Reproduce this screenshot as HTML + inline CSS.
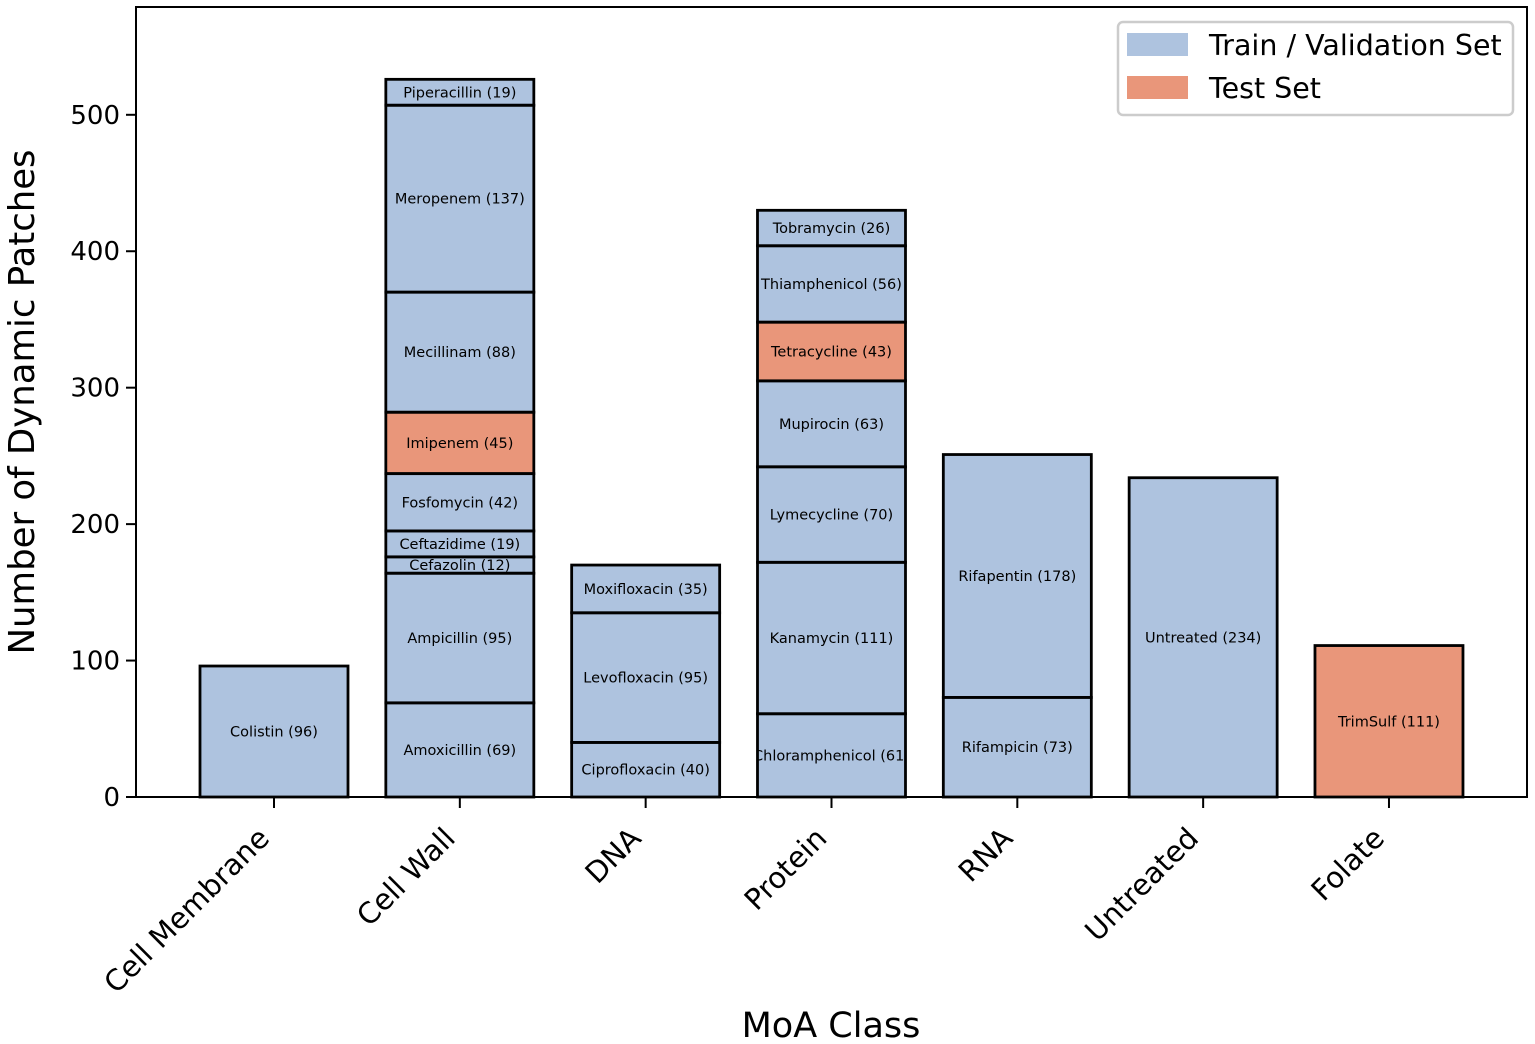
<!DOCTYPE html>
<html><head><meta charset="utf-8"><style>
body{margin:0;background:#fff}
svg{display:block;font-family:"DejaVu Sans","Liberation Sans",sans-serif}
</style></head><body>
<svg id="chart" width="1535" height="1044" viewBox="0 0 1535 1044" xmlns="http://www.w3.org/2000/svg">
<defs id="defs"></defs>
<g id="fills"></g><g id="labels"></g><g id="edges"></g>
<rect x="136" y="7" width="1391" height="790" fill="none" stroke="#000" stroke-width="2"/>
<g id="axes"></g>
<text transform="translate(34,402) rotate(-90)" text-anchor="middle" font-size="35.5">Number of Dynamic Patches</text>
<text x="831" y="1037" text-anchor="middle" font-size="35">MoA Class</text>
<g>
<rect x="1118" y="22" width="395" height="93" rx="5" fill="#fff" stroke="#ccc" stroke-width="2.5"/>
<rect x="1127" y="33" width="61" height="23" fill="#aec3df"/>
<text x="1209" y="55" font-size="28.5">Train / Validation Set</text>
<rect x="1127" y="76" width="61" height="23" fill="#e9967a"/>
<text x="1209" y="98" font-size="28.5">Test Set</text>
</g>
</svg>
<script>
const categories=["Cell Membrane","Cell Wall","DNA","Protein","RNA","Untreated","Folate"];
const segNames=[["Colistin"],["Amoxicillin","Ampicillin","Cefazolin","Ceftazidime","Fosfomycin","Imipenem","Mecillinam","Meropenem","Piperacillin"],["Ciprofloxacin","Levofloxacin","Moxifloxacin"],["Chloramphenicol","Kanamycin","Lymecycline","Mupirocin","Tetracycline","Thiamphenicol","Tobramycin"],["Rifampicin","Rifapentin"],["Untreated"],["TrimSulf"]];
const segValues=[[96],[69,95,12,19,42,45,88,137,19],[40,95,35],[61,111,70,63,43,56,26],[73,178],[234],[111]];
const segTest=[[0],[0,0,0,0,0,1,0,0,0],[0,0,0],[0,0,0,0,1,0,0],[0,0],[0],[1]];
const yTicks=[0,100,200,300,400,500];
const NS="http://www.w3.org/2000/svg";
const X0=136,Y0=797,PPU=1.3644;
const step=185.83, bw=148, first=274;
const xc=i=>first+step*i;
const y=v=>Y0-v*PPU;
function mk(t,a,p){const e=document.createElementNS(NS,t);for(const k in a)e.setAttribute(k,a[k]);p.appendChild(e);return e;}
const fills=document.getElementById('fills'),labels=document.getElementById('labels'),edges=document.getElementById('edges'),axes=document.getElementById('axes'),defs=document.getElementById('defs');
categories.forEach((c,i)=>{
  const cp=mk('clipPath',{id:'clip'+i},defs);
  mk('rect',{x:xc(i)-bw/2,y:0,width:bw,height:1044},cp);
  let base=0;
  segValues[i].forEach((v,j)=>{
    const r=mk('rect',{x:xc(i)-bw/2,y:y(base+v),width:bw,height:v*PPU,fill:segTest[i][j]?'#e9967a':'#aec3df'},fills);
    
    
    const t=mk('text',{x:xc(i),y:y(base+v/2)+5,'text-anchor':'middle','font-size':'14.5','clip-path':'url(#clip'+i+')'},labels);
    t.textContent=segNames[i][j]+' ('+v+')';
    
    
    const e=mk('rect',{x:xc(i)-bw/2,y:y(base+v),width:bw,height:v*PPU,fill:'none',stroke:'#000','stroke-width':'2.8'},edges);
    
    
    base+=v;
  });
  const tk=mk('line',{x1:xc(i),x2:xc(i),y1:Y0,y2:Y0+11,stroke:'#000','stroke-width':'2'},axes);
  
  
  const lb=mk('text',{transform:`translate(${xc(i)-3},${Y0+43}) rotate(-45)`,'text-anchor':'end','font-size':'29'},axes);
  lb.textContent=c;
  
  
});
yTicks.forEach(v=>{
  const tk=mk('line',{x1:X0-10,x2:X0,y1:y(v),y2:y(v),stroke:'#000','stroke-width':'2'},axes);
  
  
  const lb=mk('text',{x:X0-16,y:y(v)+9,'text-anchor':'end','font-size':'26'},axes);
  lb.textContent=v;
  
  
});
</script>
</body></html>
